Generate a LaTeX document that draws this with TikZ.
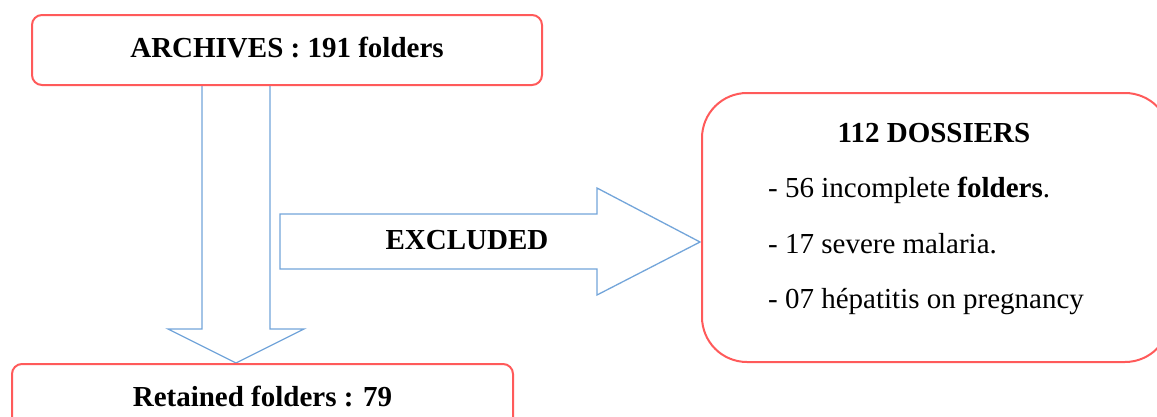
\documentclass[tikz,border=0pt]{standalone}
\usepackage{fontspec}
\setmainfont{Liberation Serif}
\usepackage{tikz}
\usepackage{xcolor}
\definecolor{boxred}{RGB}{255,90,90}
\definecolor{arrowblue}{RGB}{115,165,218}

\begin{document}
\begin{tikzpicture}[x=1pt, y=-1pt, font=\fontsize{29}{34}\selectfont,
  box/.style={draw=boxred, line width=2pt, rounded corners=10pt, text height=20pt, text depth=6pt},
  boldtext/.style={font=\fontsize{29}{34}\selectfont\bfseries},
  bigarrow/.style={draw=arrowblue, line width=1.3pt, fill=white}]
\useasboundingbox (0,0) rectangle (1157,416);

% block arrows
\draw[bigarrow] (202,85) -- (202,329) -- (168,329) -- (236,363) -- (304,329) -- (270,329) -- (270,85) -- cycle;
\draw[bigarrow] (280,214) -- (597,214) -- (597,188) -- (700,242) -- (597,295) -- (597,269) -- (280,269) -- cycle;

% boxes
\node[box, boldtext, minimum width=510pt, minimum height=70pt] (archives) at (287,50) {ARCHIVES : 191 folders};
\node[box, boldtext, minimum width=501pt, minimum height=70pt] (retained) at (262.5,399) {Retained folders : 79};
\node[box, rounded corners=45pt, minimum width=468pt, minimum height=269pt] (dossiers) at (936,227.5) {};

\node[boldtext] (excluded) at (467,240) {EXCLUDED};

\node[boldtext] (title) at (934,133) {112 DOSSIERS};
\node[anchor=base west, inner sep=0pt] (item1) at (768,197) {- 56 incomplete \textbf{folders}.};
\node[anchor=base west, inner sep=0pt] (item2) at (768,253) {- 17 severe malaria.};
\node[anchor=base west, inner sep=0pt] (item3) at (768,308) {- 07 hépatitis on pregnancy};
\end{tikzpicture}
\end{document}
